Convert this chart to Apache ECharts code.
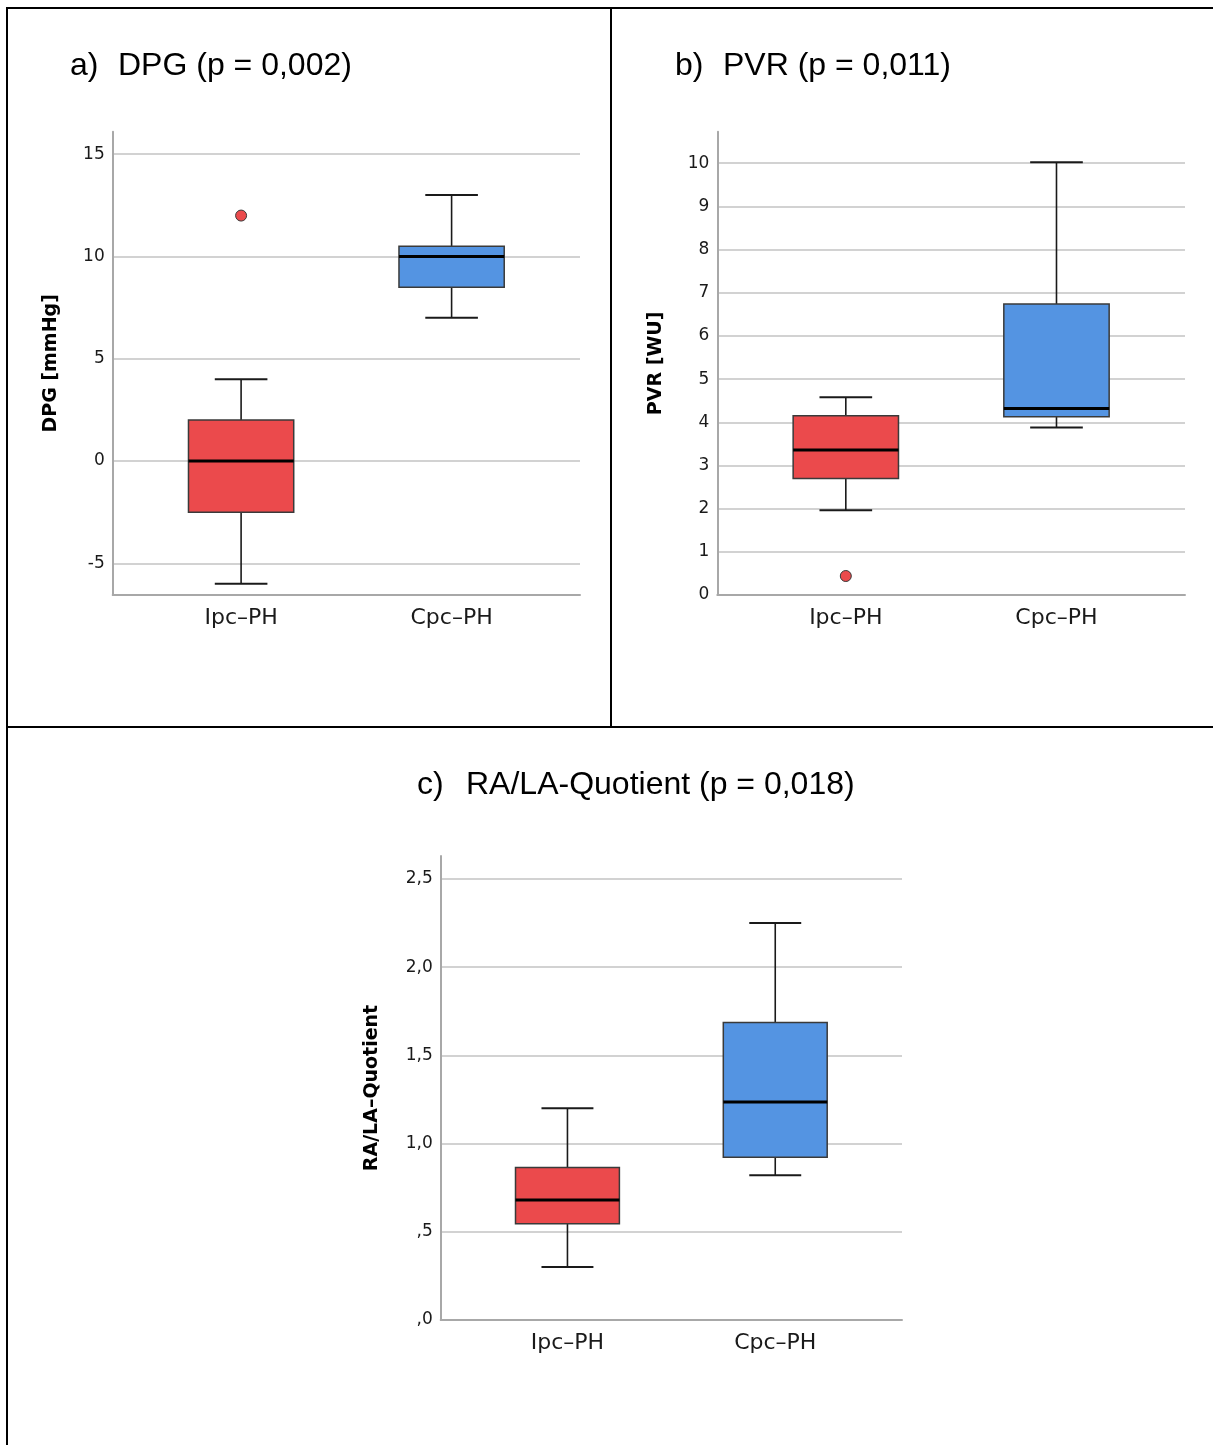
<!DOCTYPE html>
<html>
<head>
<meta charset="utf-8">
<script src="https://cdn.jsdelivr.net/npm/echarts@6/dist/echarts.min.js"></script>
<style>
  html, body { margin: 0; padding: 0; background: #fff; }
  #wrap { position: relative; width: 1213px; height: 1445px; overflow: hidden; }
  #chart { position: absolute; left: 0; top: 0; width: 1213px; height: 1445px; }
  .rule { position: absolute; background: #000; }
</style>
</head>
<body>
<div id="wrap">
  <div id="chart"></div>
  <div class="rule" style="left:6px;top:7px;width:1207px;height:2px"></div>
  <div class="rule" style="left:6px;top:7px;width:2px;height:1438px"></div>
  <div class="rule" style="left:610px;top:7px;width:2px;height:721px"></div>
  <div class="rule" style="left:6px;top:726px;width:1207px;height:2px"></div>
</div>
<script>
// groups on the x axis
const groups = ['Ipc–PH', 'Cpc–PH']

// box values: [lower whisker, Q1, median, Q3, upper whisker]
const dpgBoxes = [
  [-6, -2.5, 0, 2, 4],
  [7, 8.5, 10, 10.5, 13],
]
const dpgOutliers = [[1, 12]]

const pvrBoxes = [
  [1.96, 2.7, 3.36, 4.15, 4.58],
  [3.88, 4.13, 4.32, 6.74, 10.02],
]
const pvrOutliers = [[1, 0.44]]

const ratioBoxes = [
  [0.30, 0.546, 0.68, 0.865, 1.20],
  [0.82, 0.923, 1.236, 1.686, 2.25],
]

// y ticks
const dpgTicks = [-5, 0, 5, 10, 15]
const pvrTicks = [0, 1, 2, 3, 4, 5, 6, 7, 8, 9, 10]
const ratioTicks = [0, 0.5, 1, 1.5, 2, 2.5]

const boxColors = ['#EB4A4C', '#5494E2']
const labelFont = 'DejaVu Sans'
const titleFont = 'Liberation Sans'

function renderBox(params, api) {
  const x = api.value(0)
  const lo = api.value(1), q1 = api.value(2), med = api.value(3), q3 = api.value(4), hi = api.value(5)
  const half = 0.25, cap = 0.125
  const tl = api.coord([x - half, q3])
  const br = api.coord([x + half, q1])
  const top = api.coord([x, hi])
  const bot = api.coord([x, lo])
  const capL = api.coord([x - cap, hi])[0]
  const capR = api.coord([x + cap, hi])[0]
  const mL = api.coord([x - half, med])
  const mR = api.coord([x + half, med])
  const wStyle = {stroke: '#1a1a1a', lineWidth: 1.6}
  return {
    type: 'group',
    children: [
      {type: 'line', shape: {x1: top[0], y1: top[1], x2: top[0], y2: tl[1]}, style: wStyle},
      {type: 'line', shape: {x1: bot[0], y1: br[1], x2: bot[0], y2: bot[1]}, style: wStyle},
      {type: 'line', shape: {x1: capL, y1: top[1], x2: capR, y2: top[1]}, style: {stroke: '#1a1a1a', lineWidth: 2}},
      {type: 'line', shape: {x1: capL, y1: bot[1], x2: capR, y2: bot[1]}, style: {stroke: '#1a1a1a', lineWidth: 2}},
      {
        type: 'rect',
        shape: {x: tl[0], y: tl[1], width: br[0] - tl[0], height: br[1] - tl[1]},
        style: {fill: boxColors[params.dataIndex], stroke: '#3a3a3a', lineWidth: 1.5},
      },
      {type: 'line', shape: {x1: mL[0], y1: mL[1], x2: mR[0], y2: mR[1]}, style: {stroke: '#000', lineWidth: 3}},
    ],
  }
}

function toSeriesData(boxes) {
  return boxes.map((b, i) => [i + 1].concat(b))
}

function xAxisFor(idx) {
  return {
    type: 'value',
    gridIndex: idx,
    min: 0.39,
    max: 2.61,
    splitLine: {show: false},
    axisTick: {show: false},
    axisLine: {show: true, onZero: false, lineStyle: {color: '#a8a8a8', width: 2}},
    axisLabel: {
      customValues: [1, 2],
      formatter: v => groups[Math.round(v) - 1],
      color: '#1a1a1a',
      fontFamily: labelFont,
      fontSize: 22,
      margin: 12,
    },
  }
}

function yAxisFor(idx, name, min, max, ticks, gap, fmt) {
  return {
    type: 'value',
    gridIndex: idx,
    min: min,
    max: max,
    name: name,
    nameLocation: 'middle',
    nameRotate: 90,
    nameGap: gap,
    nameTextStyle: {fontFamily: labelFont, fontWeight: 'bold', fontSize: 19, color: '#000'},
    axisLine: {show: true, onZero: false, lineStyle: {color: '#a8a8a8', width: 2}},
    axisTick: {show: false, customValues: ticks},
    splitLine: {show: true, lineStyle: {color: '#d2d2d2', width: 2}},
    axisLabel: {
      customValues: ticks,
      formatter: fmt,
      color: '#1a1a1a',
      fontFamily: labelFont,
      fontSize: 17,
      margin: 8,
      padding: [5, 0, 0, 0],
    },
  }
}

// SPSS style decimal labels: ,5 / 1,0
function ratioFmt(v) {
  const s = v.toFixed(1).replace('.', ',')
  return s.startsWith('0,') ? s.slice(1) : s
}

function titleAt(text, left, top) {
  return {
    text: text,
    left: left,
    top: top,
    padding: 0,
    textStyle: {fontFamily: titleFont, fontWeight: 'normal', fontSize: 32, color: '#000'},
  }
}

const outlierStyle = {color: '#EB4A4C', borderColor: '#3a3a3a', borderWidth: 1, opacity: 1}

const option = {
  animation: false,
  backgroundColor: '#fff',
  title: [
    titleAt('a)', 70, 50),
    titleAt('DPG (p = 0,002)', 118, 50),
    titleAt('b)', 675, 50),
    titleAt('PVR (p = 0,011)', 723, 50),
    titleAt('c)', 417, 769),
    titleAt('RA/LA-Quotient (p = 0,018)', 466, 769),
  ],
  grid: [
    {left: 112.7, top: 131.7, width: 467.3, height: 463.3},
    {left: 717.3, top: 131.7, width: 467.7, height: 463.3},
    {left: 440.7, top: 856, width: 461.3, height: 464},
  ],
  xAxis: [xAxisFor(0), xAxisFor(1), xAxisFor(2)],
  yAxis: [
    yAxisFor(0, 'DPG [mmHg]', -6.55, 16.1, dpgTicks, 52, v => String(v)),
    yAxisFor(1, 'PVR [WU]', 0, 10.73, pvrTicks, 52, v => String(v)),
    yAxisFor(2, 'RA/LA–Quotient', 0, 2.63, ratioTicks, 59, ratioFmt),
  ],
  series: [
    {type: 'custom', xAxisIndex: 0, yAxisIndex: 0, renderItem: renderBox, data: toSeriesData(dpgBoxes)},
    {type: 'scatter', xAxisIndex: 0, yAxisIndex: 0, symbolSize: 11, itemStyle: outlierStyle, data: dpgOutliers},
    {type: 'custom', xAxisIndex: 1, yAxisIndex: 1, renderItem: renderBox, data: toSeriesData(pvrBoxes)},
    {type: 'scatter', xAxisIndex: 1, yAxisIndex: 1, symbolSize: 11, itemStyle: outlierStyle, data: pvrOutliers},
    {type: 'custom', xAxisIndex: 2, yAxisIndex: 2, renderItem: renderBox, data: toSeriesData(ratioBoxes)},
  ],
}

const chart = echarts.init(document.getElementById('chart'))
chart.setOption(option)
</script>
</body>
</html>
